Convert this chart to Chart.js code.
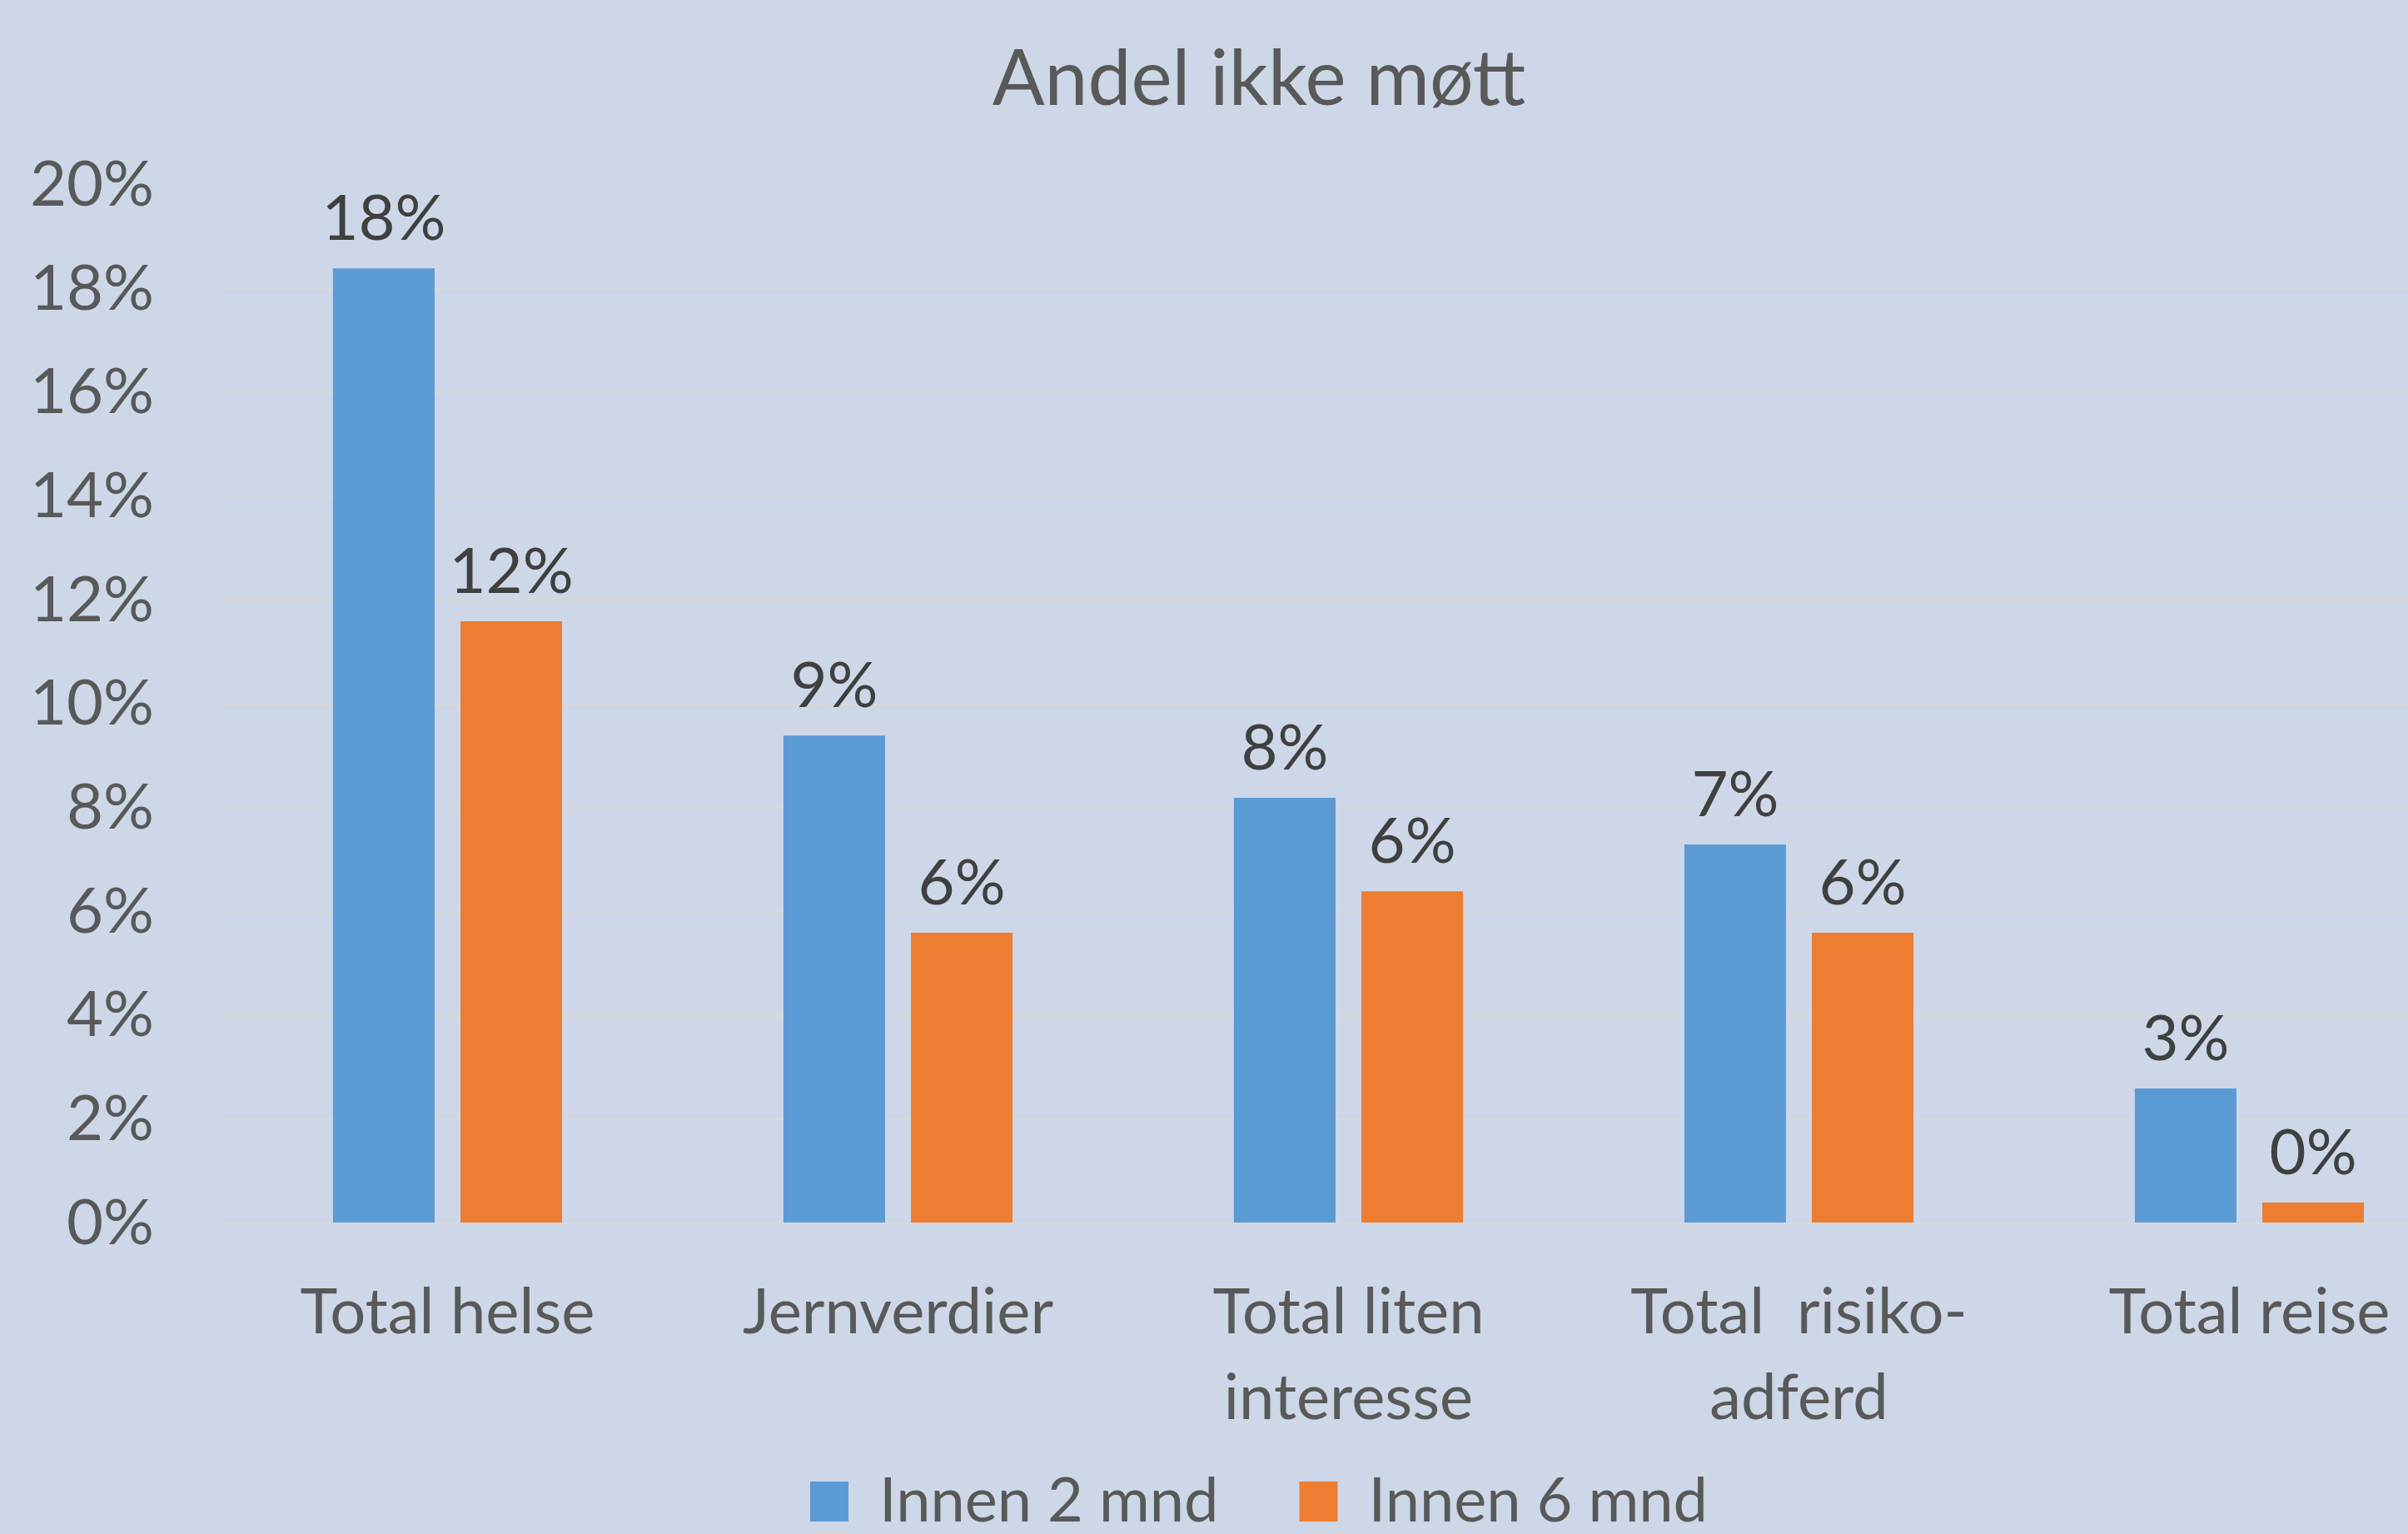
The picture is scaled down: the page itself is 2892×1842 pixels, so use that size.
<!DOCTYPE html>
<html lang="no">
<head>
  <meta charset="UTF-8">
  <title>Andel ikke møtt</title>
  <script src="https://cdn.jsdelivr.net/npm/chart.js"></script>
  <style>
    html, body {
      margin: 0;
      padding: 0;
      overflow: hidden;
      background: #CDD7E8;
    }
    canvas {
      display: block;
    }
  </style>
</head>
<body>
  <canvas id="myChart" width="3024" height="1842"></canvas>

  <script>
    // Data (values in percent)
    const categories = [
      'Total helse',
      'Jernverdier',
      ['Total liten', 'interesse'],
      ['Total  risiko-', 'adferd'],
      'Total reise'
    ];
    const innen2mnd = [18.4, 9.4, 8.2, 7.3, 2.6];
    const innen6mnd = [11.6, 5.6, 6.4, 5.6, 0.4];
    const seriesNames = ['Innen 2 mnd', 'Innen 6 mnd'];
    const yTicks = [0, 2, 4, 6, 8, 10, 12, 14, 16, 18, 20];

    const textColor = '#595959';
    const fontFamily = 'Lato, "Open Sans", sans-serif';

    // Paint background
    const bgPlugin = {
      id: 'bg',
      beforeDraw(chart) {
        const ctx = chart.ctx;
        ctx.save();
        ctx.fillStyle = '#CDD7E8';
        ctx.fillRect(0, 0, chart.width, chart.height);
        ctx.restore();
      }
    };

    // let the two-line category labels run below the x axis box (no clipping)
    const unclipX = {
      id: 'unclipX',
      afterLayout(chart) {
        chart.scales.x.bottom = chart.height;
      }
    };

    // Value labels above bars
    const valueLabels = {
      id: 'valueLabels',
      afterDatasetsDraw(chart) {
        const ctx = chart.ctx;
        ctx.save();
        ctx.font = '76px ' + fontFamily;
        ctx.fillStyle = '#404040';
        ctx.textAlign = 'center';
        ctx.textBaseline = 'alphabetic';
        chart.data.datasets.forEach((ds, i) => {
          chart.getDatasetMeta(i).data.forEach((bar, j) => {
            ctx.fillText(Math.round(ds.data[j]) + '%', bar.x, bar.y - 34);
          });
        });
        ctx.restore();
      }
    };

    const ctx = document.getElementById('myChart').getContext('2d');
    const chart = new Chart(ctx, {
      type: 'bar',
      data: {
        labels: categories,
        datasets: [{
          label: seriesNames[0],
          data: innen2mnd,
          backgroundColor: '#5B9BD5',
          yAxisID: 'y'
        }, {
          label: seriesNames[1],
          data: innen6mnd,
          backgroundColor: '#ED7D31',
          yAxisID: 'y'
        }]
      },
      options: {
        responsive: false,
        animation: false,
        devicePixelRatio: 1,
        categoryPercentage: 0.566,
        barPercentage: 0.797,
        layout: { padding: { left: 0, right: 0, top: 0, bottom: -8 } },
        plugins: {
          title: {
            display: true,
            text: 'Andel ikke møtt',
            color: textColor,
            font: { family: fontFamily, size: 93, weight: 'normal' },
            padding: { top: 40, bottom: 71 }
          },
          legend: {
            position: 'bottom',
            labels: {
              color: textColor,
              font: { family: fontFamily, size: 74 },
              boxWidth: 46,
              boxHeight: 48,
              padding: 97
            }
          },
          tooltip: { enabled: false }
        },
        scales: {
          x: {
            grid: { display: false, drawTicks: false },
            border: { display: false },
            ticks: {
              color: textColor,
              font: { family: fontFamily, size: 76, lineHeight: 1.355 },
              padding: 56,
              maxRotation: 0,
              autoSkip: false
            },
            afterFit(scale) { scale.height = 200; }
          },
          y: {
            min: 0,
            max: 20,
            afterBuildTicks(scale) { scale.ticks = yTicks.map(v => ({ value: v })); },
            grid: { color: '#D9D9D9', lineWidth: 2, drawTicks: false },
            border: { display: false },
            ticks: {
              color: textColor,
              font: { family: fontFamily, size: 76 },
              padding: 82,
              callback: v => v + '%'
            },
            afterFit(scale) { scale.width = 267; }
          },
          // spacer axis so title/legend centre like the original, wider chart
          y2: {
            position: 'right',
            min: 0,
            max: 20,
            grid: { display: false, drawTicks: false },
            border: { display: false },
            ticks: { display: false },
            afterFit(scale) { scale.width = 52; }
          }
        }
      },
      plugins: [bgPlugin, unclipX, valueLabels]
    });
  </script>
</body>
</html>
